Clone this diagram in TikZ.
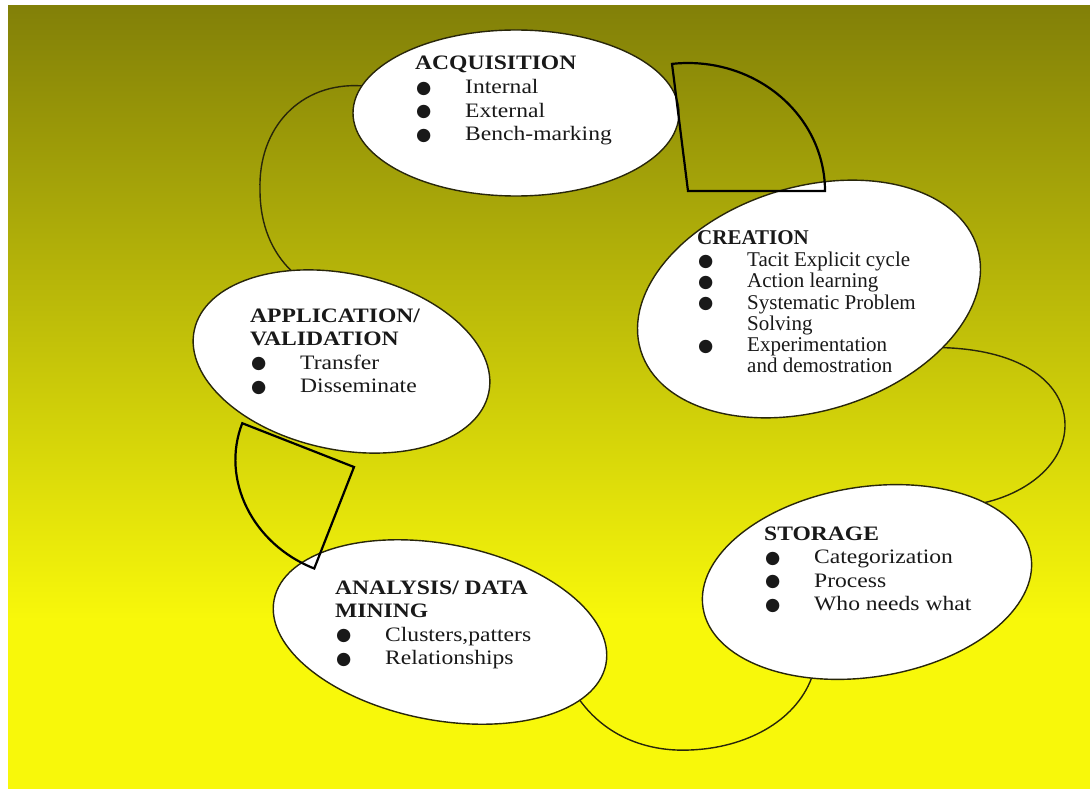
\documentclass[tikz,border=0pt]{standalone}
\usepackage{fontspec}
\setmainfont{Liberation Serif}[FakeStretch=1.15]
\newfontfamily\narrowserif{Liberation Serif}
\newfontfamily\symfont{DejaVu Sans}
\usepackage{array}
\usetikzlibrary{shapes.geometric}

\definecolor{olivetop}{RGB}{130,128,8}
\definecolor{yellowbot}{RGB}{248,248,10}
\definecolor{rim}{RGB}{40,38,10}

\pgfdeclarelayer{back}
\pgfdeclarelayer{links}
\pgfsetlayers{back,links,main}

% bullet followed by the indent of the item text
\newcommand\bul{\makebox[50pt][l]{\hspace{1pt}\raisebox{0.3pt}{\symfont\fontsize{17.5}{17.5}\selectfont ●}}}
\newcommand\hd[1]{\multicolumn{2}{@{}l@{}}{\textbf{#1}}}

\tikzset{
  stage/.style={ellipse, draw=rim, line width=1.4pt, fill=white, inner sep=0pt, outer sep=0pt},
  link/.style={draw=rim, line width=1.4pt},
  fan/.style={draw=black, line width=2.2pt, line join=miter},
  txt/.style={anchor=base west, inner sep=0pt, text=black!90,
              font=\fontsize{20.5}{23.6}\selectfont},
  txtn/.style={anchor=base west, inner sep=0pt, text=black!90,
              font=\narrowserif\fontsize{21}{21.2}\selectfont},
}

\begin{document}
\begin{tikzpicture}[x=1pt,y=-1pt]
  \useasboundingbox (0,0) rectangle (1090,789);

  \begin{pgfonlayer}{back}
    \fill[white] (0,0) rectangle (1090,789);
    \shade[top color=olivetop, bottom color=yellowbot] (8,6) rectangle (1090,620);
    \fill[yellowbot] (8,619) rectangle (1090,789);
  \end{pgfonlayer}

  % the five stages of the cycle
  \node[stage, minimum width=326pt, minimum height=166pt] (acq) at (516,113) {};
  \node[stage, minimum width=352pt, minimum height=224pt, rotate=17] (cre) at (809,299) {};
  \node[stage, minimum width=301pt, minimum height=176pt, rotate=-12] (app) at (341.5,361.5) {};
  \node[stage, minimum width=338pt, minimum height=176pt, rotate=-11] (ana) at (440,632) {};
  \node[stage, minimum width=332pt, minimum height=190pt, rotate=9] (sto) at (867,582) {};

  % curved links between neighbouring stages
  \begin{pgfonlayer}{links}
    \draw[link] (acq.170) .. controls (300,82) and (258,128) .. (260,190)
                          .. controls (260,225) and (272,252) .. (app.131);
    \draw[link] (cre.323) .. controls (1025,350) and (1065,385) .. (1065,425)
                          .. controls (1065,462) and (1030,492) .. (sto.25);
    \draw[link] (ana.345) .. controls (605,735) and (645,752) .. (690,750)
                          .. controls (745,748) and (795,722) .. (sto.231);
  \end{pgfonlayer}

  % open block arcs
  \coordinate (f1) at (688,191);
  \draw[fan] (f1) -- ++(137pt,0)
     arc[start angle=0, end angle=96.7, x radius=137pt, y radius=128pt] -- cycle;
  \coordinate (f2) at (354,467);
  \draw[fan, rotate around={158.6:(f2)}] (f2) -- ++(120pt,0)
     arc[start angle=0, end angle=90, x radius=120pt, y radius=109pt] -- cycle;

  % stage texts
  \node[txt] (tacq) at (415,70) {\begin{tabular}[t]{@{}l@{}l@{}}
      \hd{ACQUISITION}\\ \bul & Internal\\ \bul & External\\ \bul & Bench-marking
    \end{tabular}};
  \node[txtn] (tcre) at (697,244) {\begin{tabular}[t]{@{}l@{}l@{}}
      \hd{CREATION}\\[1.5pt] \bul & Tacit Explicit cycle\\ \bul & Action learning\\
      \bul & Systematic Problem\\ & Solving\\ \bul & Experimentation\\ & and demostration
    \end{tabular}};
  \node[txt] (tapp) at (250,322) {\begin{tabular}[t]{@{}l@{}l@{}}
      \hd{APPLICATION/}\\ \hd{VALIDATION}\\ \bul & Transfer\\ \bul & Disseminate
    \end{tabular}};
  \node[txt] (tana) at (335,594) {\begin{tabular}[t]{@{}l@{}l@{}}
      \hd{ANALYSIS/ DATA}\\ \hd{MINING}\\ \bul & Clusters,patters\\ \bul & Relationships
    \end{tabular}};
  \node[txt] (tsto) at (764,540) {\begin{tabular}[t]{@{}l@{}l@{}}
      \hd{STORAGE}\\ \bul & Categorization\\ \bul & Process\\ \bul & Who needs what
    \end{tabular}};
\end{tikzpicture}
\end{document}
